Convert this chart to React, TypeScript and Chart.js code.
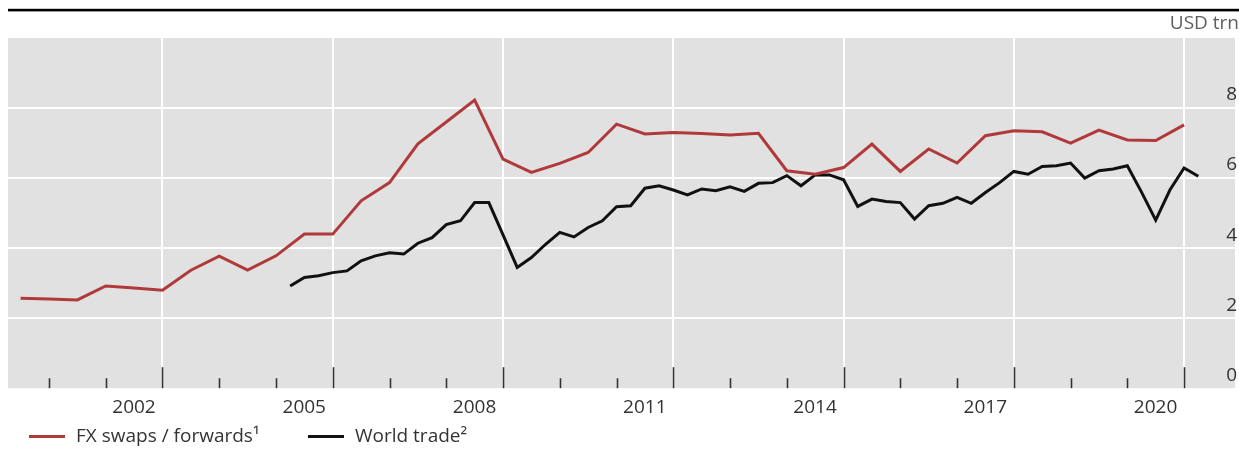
import React, { useEffect, useRef } from "react";
import { Chart, registerables } from "chart.js";

Chart.register(...registerables);

// FX swaps / forwards, semiannual (end-June / end-December), USD trn
const fxStart = 2000.5;
const fxStep = 0.5;
const fxValues = [
  2.57, 2.55, 2.52, 2.92, 2.86, 2.8, 3.37, 3.77, 3.37, 3.78,
  4.4, 4.4, 5.35, 5.87, 6.98, 7.6, 8.23, 6.54, 6.16, 6.42,
  6.73, 7.54, 7.26, 7.3, 7.27, 7.23, 7.28, 6.21, 6.11, 6.3,
  6.97, 6.19, 6.83, 6.43, 7.21, 7.35, 7.32, 7.0, 7.37, 7.09,
  7.07, 7.52,
];

// World trade, quarterly, USD trn
const tradeStart = 2005.25;
const tradeStep = 0.25;
const tradeValues = [
  2.92, 3.16, 3.21,
  3.3, 3.35, 3.64, 3.78,
  3.87, 3.83, 4.14, 4.3,
  4.67, 4.78, 5.3, 5.3,
  4.38, 3.45, 3.73, 4.11,
  4.45, 4.32, 4.59, 4.78,
  5.18, 5.21, 5.71, 5.78,
  5.66, 5.52, 5.69, 5.64,
  5.75, 5.62, 5.85, 5.87,
  6.07, 5.78, 6.09, 6.09,
  5.95, 5.19, 5.4, 5.33,
  5.3, 4.83, 5.21, 5.28,
  5.45, 5.28, 5.59, 5.87,
  6.19, 6.11, 6.33, 6.35,
  6.43, 6.0, 6.21, 6.26,
  6.35, 5.6, 4.8, 5.66,
  6.29, 6.05,
];

// x-axis year labels (centred in their year); gridlines at the start of the following year
const xLabelYears = [2002, 2005, 2008, 2011, 2014, 2017, 2020];
const yTicks = [0, 2, 4, 6, 8];

const seriesNames = ["FX swaps / forwards¹", "World trade²"];
const RED = "#b0393b";
const BLACK = "#111111";
const FONT = "'Open Sans', 'Noto Sans', sans-serif";

const X_MIN = 2000.278;
const X_MAX = 2021.897;

const fxPoints = fxValues.map((v, i) => ({ x: fxStart + i * fxStep, y: v }));
const tradePoints = tradeValues.map((v, i) => ({ x: tradeStart + i * tradeStep, y: v }));

const plotBackground = {
  id: "plotBackground",
  beforeDraw(chart: any) {
    const { ctx, chartArea } = chart;
    ctx.save();
    ctx.fillStyle = "#e1e1e1";
    ctx.fillRect(chartArea.left, chartArea.top, chartArea.right - chartArea.left, chartArea.bottom - chartArea.top);
    // top rule
    ctx.fillStyle = "#000";
    ctx.fillRect(chartArea.left, 8.8, chart.width - chartArea.left, 2.6);
    ctx.restore();
  },
};

const insideTicks = {
  id: "insideTicks",
  afterDatasetsDraw(chart: any) {
    const { ctx, chartArea, scales } = chart;
    const x = scales.x;
    const majors = xLabelYears.map((y) => y + 1);
    ctx.save();
    ctx.strokeStyle = "#333";
    ctx.lineWidth = 1.6;
    for (let yr = Math.ceil(x.min); yr <= Math.floor(x.max); yr++) {
      const px = Math.round(x.getPixelForValue(yr)) + 0.5;
      const len = majors.includes(yr) ? 21 : 10;
      ctx.beginPath();
      ctx.moveTo(px, chartArea.bottom);
      ctx.lineTo(px, chartArea.bottom - len);
      ctx.stroke();
    }
    ctx.restore();
  },
};

function ChartCanvas() {
  const ref = useRef<HTMLCanvasElement | null>(null);
  useEffect(() => {
    if (!ref.current) return;
    Chart.defaults.font.family = FONT;
    const chart = new Chart(ref.current, {
      type: "line",
      data: {
        datasets: [
          {
            label: seriesNames[0],
            data: fxPoints,
            borderColor: RED,
            backgroundColor: RED,
            borderWidth: 3,
            pointRadius: 0,
            tension: 0,
          },
          {
            label: seriesNames[1],
            data: tradePoints,
            borderColor: BLACK,
            backgroundColor: BLACK,
            borderWidth: 3,
            pointRadius: 0,
            tension: 0,
          },
        ],
      },
      options: {
        animation: false,
        responsive: false,
        devicePixelRatio: 1,
        layout: { padding: { left: 8, right: 0, top: 0, bottom: 28 } },
        plugins: {
          legend: { display: false },
          tooltip: { enabled: false },
          title: {
            display: true,
            text: "USD trn",
            align: "end",
            position: "top",
            color: "#5e5e5e",
            font: { size: 19, weight: "normal", family: FONT },
            padding: { top: 12, bottom: 3.2 },
          },
        },
        scales: {
          x: {
            type: "linear",
            min: X_MIN,
            max: X_MAX,
            afterBuildTicks: (scale: any) => {
              scale.ticks = xLabelYears.map((y) => ({ value: y + 1 }));
            },
            grid: { color: "#ffffff", lineWidth: 2, drawTicks: false },
            border: { display: false },
            ticks: {
              autoSkip: false,
              maxRotation: 0,
              padding: 8,
              labelOffset: -28.5,
              color: "#333",
              font: { size: 19, family: FONT },
              callback: (v: any) => String(Number(v) - 1),
            },
          },
          y: {
            position: "right",
            min: 0,
            max: 10,
            afterBuildTicks: (scale: any) => {
              scale.ticks = yTicks.concat([10]).map((v) => ({ value: v }));
            },
            grid: {
              color: (c: any) => (c.tick && (c.tick.value === 0 || c.tick.value === 10) ? "rgba(0,0,0,0)" : "#ffffff"),
              lineWidth: 2,
              drawTicks: false,
            },
            border: { display: false },
            ticks: {
              mirror: true,
              padding: 2,
              labelOffset: -13,
              color: "#333",
              font: { size: 19, family: FONT },
              callback: (v: any) => (yTicks.includes(Number(v)) ? String(v) : ""),
            },
          },
        },
      },
      plugins: [plotBackground, insideTicks],
    });
    return () => chart.destroy();
  }, []);
  return <canvas ref={ref} width={1239} height={455} style={{ display: "block", width: 1239, height: 455 }} />;
}

const legendText: React.CSSProperties = {
  position: "absolute",
  top: 424,
  fontFamily: FONT,
  fontSize: 19,
  lineHeight: "22px",
  color: "#333",
  whiteSpace: "nowrap",
};

export default function App() {
  return (
    <div style={{ position: "absolute", left: 0, top: 0, width: 1239, height: 455, background: "#fff", overflow: "hidden" }}>
      <ChartCanvas />
      <div style={{ position: "absolute", left: 29, top: 434.5, width: 36, height: 3, background: RED }} />
      <span style={{ ...legendText, left: 76 }}>{seriesNames[0]}</span>
      <div style={{ position: "absolute", left: 308, top: 434.5, width: 36, height: 3, background: BLACK }} />
      <span style={{ ...legendText, left: 355 }}>{seriesNames[1]}</span>
    </div>
  );
}
